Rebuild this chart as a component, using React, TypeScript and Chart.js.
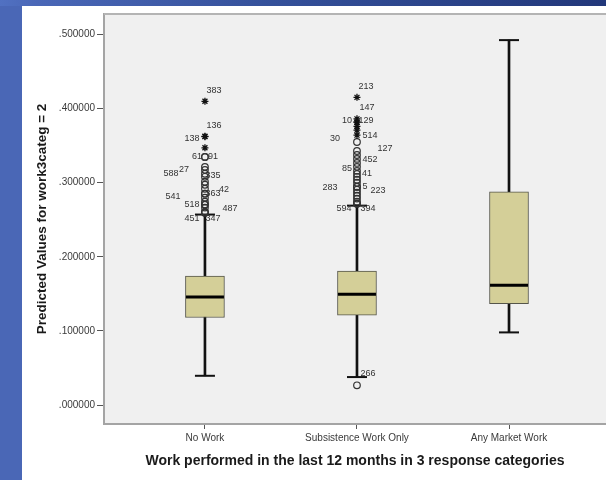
import React, { useEffect, useRef } from 'react';
import { Chart, registerables } from 'chart.js';

Chart.register(...registerables);

// ---------- data ----------
const categories = ['No Work', 'Subsistence Work Only', 'Any Market Work'];
const whiskerLow = [0.0396, 0.0379, 0.0981];
const q1 = [0.1182, 0.1214, 0.1369];
const median = [0.1459, 0.1495, 0.1616];
const q3 = [0.174, 0.1807, 0.2878];
const whiskerHigh = [0.257, 0.269, 0.4922];

// outliers (circles) and extremes (stars) with case ids
const noWorkOutliers = [0.3347, 0.3347, 0.3213, 0.3173, 0.312, 0.3079, 0.3012, 0.2972, 0.2918, 0.2851, 0.2851, 0.2798, 0.2744, 0.2704, 0.2704, 0.2664, 0.261, 0.2595, 0.2595];
const noWorkOutlierIds = ['61', '91', '', '27', '588', '335', '', '', '', '363', '42', '541', '', '518', '487', '', '', '451', '347'];
const noWorkExtremes = [0.4097, 0.3625, 0.362, 0.347];
const noWorkExtremeIds = ['383', '136', '138', ''];

const subsOutliers = [0.3548, 0.3427, 0.3373, 0.332, 0.3266, 0.3213, 0.3159, 0.3119, 0.3079, 0.3039, 0.2999, 0.2945, 0.2945, 0.2905, 0.2865, 0.2825, 0.2785, 0.2744, 0.2717, 0.2717, 0.0268];
const subsOutlierIds = ['30', '127', '', '452', '', '85', '', '41', '', '', '', '283', '5', '223', '', '', '', '', '594', '394', '266'];
const subsExtremes = [0.415, 0.386, 0.3815, 0.3815, 0.376, 0.3708, 0.364];
const subsExtremeIds = ['213', '147', '10', '129', '', '', '514'];

const yTickValues = [0, 0.1, 0.2, 0.3, 0.4, 0.5];
const yTickLabels = ['.000000', '.100000', '.200000', '.300000', '.400000', '.500000'];
const yTitle = 'Predicted Values for work3categ = 2';
const xTitle = 'Work performed in the last 12 months in 3 response categories';

// ---------- label placement (pixel offsets from marker, styling only) ----------
const noWorkOutlierLabelPos = [[-8, 0], [8, 0], [0, 0], [-21, 0], [-34, 0], [8, -1], [0, 0], [0, 0], [0, 0], [8, 0], [19, -4], [-32, -1], [0, 0], [-13, 0], [25, 4], [0, 0], [0, 0], [-13, 6], [8, 6]];
const noWorkExtremeLabelPos = [[9, -11], [9, -11], [-13, 2], [0, 0]];
const subsOutlierLabelPos = [[-22, -3], [28, -2], [0, 0], [13, 1], [0, 0], [-10, 2], [0, 0], [10, 0], [0, 0], [0, 0], [0, 0], [-27, 1], [8, 0], [21, 1], [0, 0], [0, 0], [0, 0], [0, 0], [-13, 5], [11, 5], [11, -12]];
const subsExtremeLabelPos = [[9, -11], [10, -11], [-10, -2], [9, -2], [0, 0], [0, 0], [13, 0]];

const FONT = "'Liberation Sans', Arial, Helvetica, sans-serif";

const panelPlugin = {
  id: 'panel',
  beforeDraw(chart: any) {
    const { ctx, chartArea: a } = chart;
    ctx.save();
    ctx.fillStyle = '#f0f0f0';
    ctx.fillRect(a.left, a.top, chart.width - a.left, a.bottom - a.top);
    ctx.restore();
  },
  afterDatasetsDraw(chart: any) {
    const { ctx } = chart;
    ctx.save();
    ctx.font = `9px ${FONT}`;
    ctx.fillStyle = '#333';
    ctx.textAlign = 'center';
    ctx.textBaseline = 'middle';
    chart.data.datasets.forEach((ds: any, di: number) => {
      if (!ds.ids) return;
      const meta = chart.getDatasetMeta(di);
      meta.data.forEach((el: any, j: number) => {
        const t = ds.ids[j];
        if (!t) return;
        const [dx, dy] = ds.idPos[j];
        ctx.fillText(t, el.x + dx, el.y + dy);
      });
    });
    ctx.restore();
  },
  afterDraw(chart: any) {
    const { ctx, chartArea: a } = chart;
    ctx.save();
    ctx.strokeStyle = '#b4b4b4';
    ctx.lineWidth = 2;
    ctx.beginPath();
    ctx.moveTo(a.left, a.top);
    ctx.lineTo(chart.width, a.top);
    ctx.stroke();
    ctx.restore();
  },
};

export default function App() {
  const ref = useRef<HTMLCanvasElement | null>(null);

  useEffect(() => {
    if (!ref.current) return;
    const idx = categories.map((_, i) => i);
    const circles = [
      ...noWorkOutliers.map((v) => ({ x: 0, y: v })),
      ...subsOutliers.map((v) => ({ x: 1, y: v })),
    ];
    const stars = [
      ...noWorkExtremes.map((v) => ({ x: 0, y: v })),
      ...subsExtremes.map((v) => ({ x: 1, y: v })),
    ];
    const chart = new Chart(ref.current, {
      type: 'bar',
      data: {
        datasets: [
          {
            type: 'bar',
            order: 6,
            data: idx.map((i) => ({ x: i, y: [whiskerLow[i], whiskerHigh[i]] })),
            backgroundColor: '#111',
            borderWidth: 0,
            barThickness: 2,
            grouped: false,
          },
          {
            type: 'bar',
            order: 5,
            data: idx.map((i) => ({ x: i, y: [q1[i], q3[i]] })),
            backgroundColor: '#d4cf98',
            borderColor: '#55554a',
            borderWidth: 1,
            borderSkipped: false,
            barThickness: 39,
            grouped: false,
          },
          {
            type: 'scatter',
            order: 4,
            data: idx.map((i) => ({ x: i, y: median[i] })),
            pointStyle: 'line',
            pointRadius: 19,
            borderColor: '#000',
            borderWidth: 3,
          },
          {
            type: 'scatter',
            order: 4,
            data: [
              ...idx.map((i) => ({ x: i, y: whiskerLow[i] })),
              ...idx.map((i) => ({ x: i, y: whiskerHigh[i] })),
            ],
            pointStyle: 'line',
            pointRadius: 10,
            borderColor: '#111',
            borderWidth: 2,
          },
          {
            type: 'scatter',
            order: 2,
            data: circles,
            pointStyle: 'circle',
            pointRadius: 3.3,
            backgroundColor: 'rgba(0,0,0,0)',
            borderColor: '#333',
            borderWidth: 1.2,
            ids: [...noWorkOutlierIds, ...subsOutlierIds],
            idPos: [...noWorkOutlierLabelPos, ...subsOutlierLabelPos],
          } as any,
          {
            type: 'scatter',
            order: 1,
            data: stars,
            pointStyle: 'star',
            pointRadius: 3.5,
            backgroundColor: 'rgba(0,0,0,0)',
            borderColor: '#111',
            borderWidth: 1.3,
            ids: [...noWorkExtremeIds, ...subsExtremeIds],
            idPos: [...noWorkExtremeLabelPos, ...subsExtremeLabelPos],
          } as any,
        ],
      },
      options: {
        animation: false,
        responsive: false,
        events: [],
        layout: { autoPadding: false, padding: { top: 5, left: 0, right: 0, bottom: 0 } },
        plugins: { legend: { display: false }, tooltip: { enabled: false } },
        scales: {
          x: {
            type: 'linear',
            min: -0.664,
            max: 2.638,
            offset: false,
            afterBuildTicks: (s: any) => {
              s.ticks = categories.map((_, i) => ({ value: i }));
            },
            afterFit: (s: any) => {
              s.height = 56;
            },
            grid: { drawOnChartArea: false, drawTicks: true, tickLength: 5, color: '#555', offset: false },
            border: { display: true, color: '#a4a4a4', width: 2 },
            ticks: {
              autoSkip: false,
              maxRotation: 0,
              minRotation: 0,
              padding: 3,
              color: '#3a3a3a',
              font: { family: FONT, size: 10 },
              callback: (v: any) => categories[v] ?? '',
            },
            title: {
              display: true,
              text: xTitle,
              color: '#1a1a1a',
              font: { family: FONT, size: 14, weight: 'bold' },
              padding: { top: 0, bottom: 10.5 },
            },
          },
          y: {
            type: 'linear',
            min: -0.0254,
            max: 0.5274,
            afterBuildTicks: (s: any) => {
              s.ticks = yTickValues.map((v) => ({ value: v }));
            },
            afterFit: (s: any) => {
              s.width = 82;
            },
            grid: { drawOnChartArea: false, drawTicks: true, tickLength: 7, color: '#555' },
            border: { display: true, color: '#a4a4a4', width: 2 },
            ticks: {
              padding: 2,
              color: '#3a3a3a',
              font: { family: FONT, size: 10 },
              callback: (_v: any, i: number) => yTickLabels[i],
            },
            title: {
              display: true,
              text: yTitle,
              color: '#1a1a1a',
              font: { family: FONT, size: 13.5, weight: 'bold' },
              padding: { top: 12, bottom: 0 },
            },
          },
        },
      } as any,
      plugins: [panelPlugin],
    });
    return () => chart.destroy();
  }, []);

  return (
    <div
      style={{
        position: 'absolute',
        left: 0,
        top: 0,
        width: 606,
        height: 480,
        overflow: 'hidden',
        background: 'linear-gradient(to right, #5171c2 0%, #4a67b7 6%, #34509a 45%, #22377a 100%)',
      }}
    >
      <div style={{ position: 'absolute', left: 0, top: 6, width: 22, height: 474, background: '#4a67b6' }} />
      <canvas
        ref={ref}
        width={584}
        height={474}
        style={{ position: 'absolute', left: 22, top: 6, width: 584, height: 474, background: '#fff', display: 'block' }}
      />
    </div>
  );
}
